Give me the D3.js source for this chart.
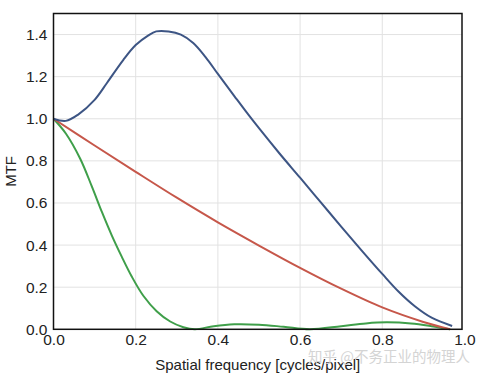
<!DOCTYPE html>
<html>
<head>
<meta charset="utf-8">
<script src="https://cdn.jsdelivr.net/npm/d3@7"></script>
<style>
  body { margin: 0; background: #fff; }
  svg { display: block; font-family: "Liberation Sans", Arial, sans-serif; }
  .tick line { display: none; }
  .domain { display: none; }
</style>
</head>
<body>
<svg width="481" height="377"></svg>
<script>
// values
const xTicks = [0, 0.2, 0.4, 0.6, 0.8, 1.0];
const yTicks = [0, 0.2, 0.4, 0.6, 0.8, 1.0, 1.2, 1.4];

const blueX = [0, 0.03, 0.06, 0.10, 0.13, 0.17, 0.20, 0.23, 0.25, 0.28, 0.31, 0.34, 0.37, 0.40, 0.44, 0.47, 0.50, 0.55, 0.60, 0.65, 0.70, 0.75, 0.80, 0.84, 0.88, 0.92, 0.97];
const blueY = [1.0, 0.99, 1.02, 1.09, 1.17, 1.28, 1.35, 1.395, 1.415, 1.415, 1.40, 1.36, 1.293, 1.213, 1.108, 1.03, 0.955, 0.835, 0.72, 0.604, 0.488, 0.374, 0.263, 0.178, 0.108, 0.055, 0.016];

const redX = [0, 0.1, 0.2, 0.3, 0.4, 0.5, 0.6, 0.7, 0.8, 0.9, 0.965];
const redY = [1.0, 0.873, 0.748, 0.625, 0.508, 0.398, 0.292, 0.193, 0.104, 0.035, 0.0];

const greenX = [0, 0.03, 0.065, 0.093, 0.118, 0.142, 0.166, 0.19, 0.219, 0.251, 0.284, 0.316, 0.344, 0.39, 0.44, 0.5, 0.56, 0.624, 0.7, 0.76, 0.81, 0.87, 0.92, 0.965];
const greenY = [1.0, 0.93, 0.81, 0.68, 0.556, 0.445, 0.345, 0.252, 0.158, 0.086, 0.037, 0.01, 0.0, 0.015, 0.024, 0.022, 0.012, 0.0, 0.015, 0.028, 0.033, 0.028, 0.015, 0.0];

const series = [
  {xs: greenX, ys: greenY, color: "#3f9f4a"},
  {xs: redX, ys: redY, color: "#c6574a"},
  {xs: blueX, ys: blueY, color: "#3d5584"}
];

const svg = d3.select("svg");
const plotL = 53.5, plotR = 462, plotT = 13.5, plotB = 329.3;

const x = d3.scaleLinear().domain([0, 0.994]).range([plotL, plotR]);
const y = d3.scaleLinear().domain([0, 1.5]).range([plotB, plotT]);

// grid
const grid = svg.append("g").attr("stroke", "#e2e2e2").attr("stroke-width", 1);
grid.selectAll(".gx").data(xTicks.filter(d => d > 0 && d < 1)).enter().append("line")
  .attr("x1", d => x(d)).attr("x2", d => x(d)).attr("y1", plotT).attr("y2", plotB);
grid.selectAll(".gy").data(yTicks.filter(d => d > 0)).enter().append("line")
  .attr("x1", plotL).attr("x2", plotR).attr("y1", d => y(d)).attr("y2", d => y(d));

// curves
const line = d3.line().x(d => x(d[0])).y(d => Math.min(y(d[1]), plotB)).curve(d3.curveCatmullRom.alpha(0.5));
series.forEach(s => {
  svg.append("path")
    .datum(s.xs.map((v, i) => [v, s.ys[i]]))
    .attr("fill", "none")
    .attr("stroke", s.color)
    .attr("stroke-width", 2)
    .attr("stroke-linejoin", "round")
    .attr("d", line);
});

// frame
svg.append("rect")
  .attr("x", plotL).attr("y", plotT)
  .attr("width", plotR - plotL).attr("height", plotB - plotT)
  .attr("fill", "none").attr("stroke", "#111").attr("stroke-width", 1.5);

// axes
svg.append("g")
  .attr("transform", `translate(0,${plotB})`)
  .call(d3.axisBottom(x).tickValues(xTicks).tickFormat(d3.format(".1f")).tickSize(0).tickPadding(5))
  .selectAll("text").attr("font-size", 15.5).attr("fill", "#222").attr("font-family", null);

svg.append("g")
  .attr("transform", `translate(${plotL},0)`)
  .call(d3.axisLeft(y).tickValues(yTicks).tickFormat(d3.format(".1f")).tickSize(0).tickPadding(6))
  .selectAll("text").attr("font-size", 15.5).attr("fill", "#222").attr("font-family", null);

svg.append("text")
  .attr("x", (plotL + plotR) / 2).attr("y", 370)
  .attr("text-anchor", "middle").attr("font-size", 15).attr("fill", "#222")
  .text("Spatial frequency [cycles/pixel]");

svg.append("text")
  .attr("transform", `translate(16,${(plotT + plotB) / 2}) rotate(-90)`)
  .attr("text-anchor", "middle").attr("font-size", 15).attr("fill", "#222")
  .text("MTF");

// watermark
svg.append("text")
  .attr("x", 470).attr("y", 362)
  .attr("text-anchor", "end").attr("font-size", 14.5).attr("fill", "#d4d4d4")
  .attr("font-family", "Noto Sans CJK SC")
  .text("知乎 @不务正业的物理人");
</script>
</body>
</html>
